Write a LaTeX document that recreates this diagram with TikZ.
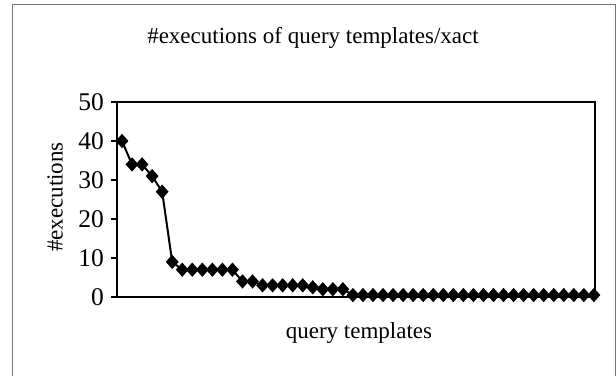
\documentclass[tikz,border=0pt]{standalone}
\usepackage{fontspec}
\setmainfont{Liberation Serif}
\usetikzlibrary{shapes.geometric}
\begin{document}
\begin{tikzpicture}[x=1pt,y=-1pt,
  dia/.style={diamond,fill=black,inner sep=0pt,minimum width=13pt,minimum height=14.5pt},
  lbl/.style={font=\fontsize{23}{26}\selectfont,inner sep=0pt},
  ticklbl/.style={font=\fontsize{25.5}{28}\selectfont,anchor=east,inner sep=0pt},
  frame/.style={draw=black!55,line width=1pt},
  axisline/.style={draw=black,line width=1.3pt},
  series/.style={draw=black,line width=2pt}]
\useasboundingbox (0,0) rectangle (616,376);
% outer chart frame
\draw[frame] (12,376) -- (12,4.5) -- (615,4.5) -- (615,376);
% title
\node[lbl] (title) at (313,38) {\#executions of query templates/xact};
% plot area
\draw[axisline] (117,102) rectangle (595,297);
% y ticks and labels
\foreach \t in {0,10,...,50} {
  \draw[axisline] (117,{297-3.9*\t}) -- (111,{297-3.9*\t});
  \node[ticklbl] (yl\t) at (104,{297-3.9*\t}) {\t};
}
% axis titles
\node[lbl,rotate=90] (ytitle) at (55,197) {\#executions};
\node[lbl] (xtitle) at (359,333) {query templates};
% data points
\foreach \v [count=\i] in {40,34,34,31,27,9,7,7,7,7,7,7,4,4,3,3,3,3,3,2.5,2,2,2,
  0.5,0.5,0.5,0.5,0.5,0.5,0.5,0.5,0.5,0.5,0.5,0.5,0.5,0.5,0.5,0.5,0.5,0.5,0.5,0.5,0.5,0.5,0.5,0.5,0.5} {
  \node[dia] (p\i) at ({122+(\i-1)*10.04},{297-3.9*\v}) {};
}
\draw[series] (p1.center) \foreach \i in {2,...,48} { -- (p\i.center) };
\end{tikzpicture}
\end{document}
